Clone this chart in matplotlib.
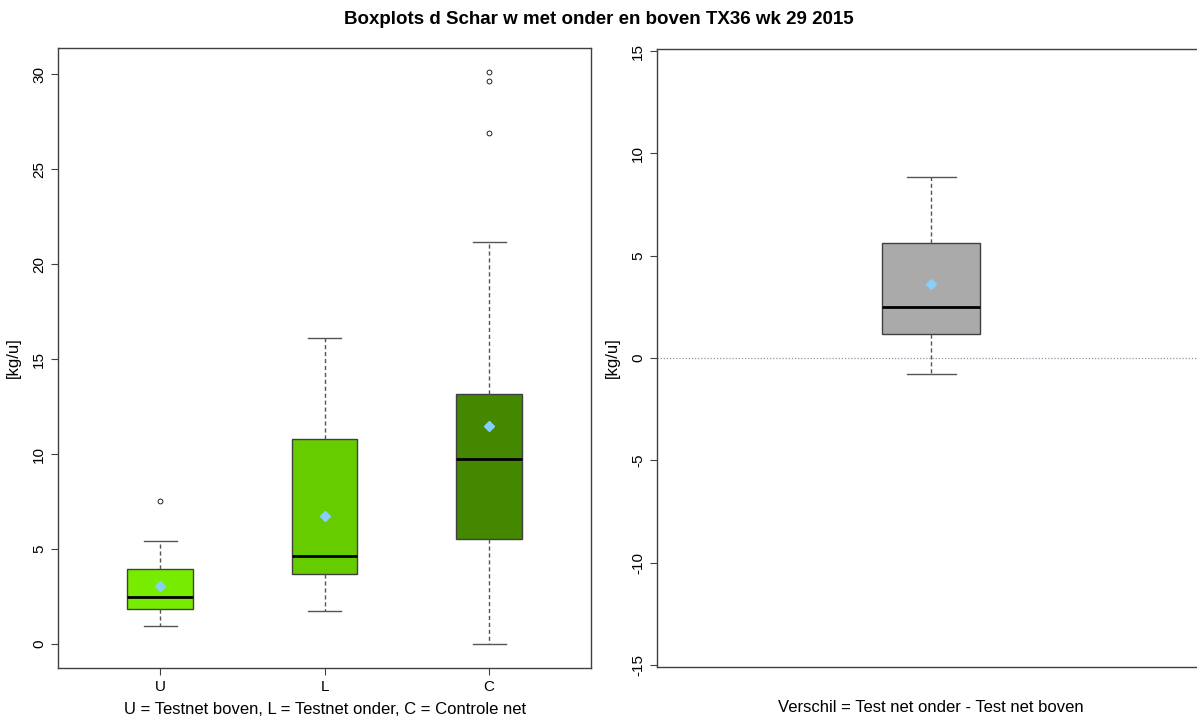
import matplotlib
matplotlib.use("Agg")
import matplotlib.pyplot as plt

plt.rcParams["font.family"] = ["Liberation Sans", "DejaVu Sans"]
plt.rcParams["axes.unicode_minus"] = False

# values
groups = ["U", "L", "C"]
q1 = [1.84, 3.68, 5.53]
med = [2.47, 4.63, 9.74]
q3 = [3.95, 10.79, 13.16]
whislo = [0.95, 1.74, 0.0]
whishi = [5.42, 16.1, 21.16]
means = [3.05, 6.74, 11.47]
fliers = [[7.53], [], [26.9, 29.63, 30.1]]
box_colors = ["#78ec00", "#66cc00", "#448800"]

diff_q1 = 1.17
diff_med = 2.49
diff_q3 = 5.61
diff_lo = -0.78
diff_hi = 8.83
diff_mean = 3.61

title = "Boxplots d Schar w met onder en boven TX36 wk 29 2015"
xlabel_left = "U = Testnet boven, L = Testnet onder, C = Controle net"
xlabel_right = "Verschil = Test net onder - Test net boven"

fig = plt.figure(figsize=(11.97, 7.2), dpi=100)
ax1 = fig.add_axes([0.0485, 0.0722, 0.4453, 0.861])
ax2 = fig.add_axes([0.5489, 0.0736, 0.4578, 0.8584])

edge = "#404040"


def style_axes(ax):
    for s in ax.spines.values():
        s.set_color(edge)
        s.set_linewidth(1.0)
    ax.tick_params(axis="both", direction="out", length=5, width=0.8,
                   color=edge, labelsize=11)
    for lab in ax.get_yticklabels():
        lab.set_rotation(90)
        lab.set_va("center")


stats = []
for i, g in enumerate(groups):
    stats.append(dict(label=g, q1=q1[i], med=med[i], q3=q3[i],
                      whislo=whislo[i], whishi=whishi[i], mean=means[i],
                      fliers=fliers[i]))

bp = ax1.bxp(stats, positions=[1, 2, 3], widths=0.4, patch_artist=True,
             showmeans=True,
             boxprops=dict(edgecolor=edge, linewidth=1.0),
             medianprops=dict(color="black", linewidth=2),
             whiskerprops=dict(color="#555555", linestyle=(0, (3, 2)), linewidth=1.0),
             capprops=dict(color="#555555", linewidth=1.0),
             meanprops=dict(marker="D", markerfacecolor="#87cefa",
                            markeredgecolor="#87cefa", markersize=5),
             flierprops=dict(marker="o", markerfacecolor="none",
                             markeredgecolor="black", markersize=3.5,
                             markeredgewidth=0.6))
for patch, c in zip(bp["boxes"], box_colors):
    patch.set_facecolor(c)

ax1.set_xlim(0.38, 3.62)
ax1.set_ylim(-1.26, 31.37)
ax1.set_yticks([0, 5, 10, 15, 20, 25, 30])
ax1.set_xticks([1, 2, 3])
ax1.set_xticklabels(groups)
ax1.set_ylabel("[kg/u]", fontsize=12, labelpad=8)
ax1.set_xlabel(xlabel_left, fontsize=12, labelpad=6)
style_axes(ax1)

stats2 = [dict(label="", q1=diff_q1, med=diff_med, q3=diff_q3,
               whislo=diff_lo, whishi=diff_hi, mean=diff_mean, fliers=[])]
bp2 = ax2.bxp(stats2, positions=[1], widths=0.193, patch_artist=True,
              showmeans=True,
              boxprops=dict(edgecolor=edge, linewidth=1.0, facecolor="#aaaaaa"),
              medianprops=dict(color="black", linewidth=2),
              whiskerprops=dict(color="#555555", linestyle=(0, (3, 2)), linewidth=1.0),
              capprops=dict(color="#555555", linewidth=1.0),
              meanprops=dict(marker="D", markerfacecolor="#87cefa",
                             markeredgecolor="#87cefa", markersize=5))
ax2.axhline(0, color="#8899aa", linestyle=(0, (1, 1.5)), linewidth=0.9, zorder=0)
ax2.set_xlim(0.46, 1.54)
ax2.set_ylim(-15.1, 15.1)
ax2.set_yticks([-15, -10, -5, 0, 5, 10, 15])
ax2.set_xticks([])
ax2.set_ylabel("[kg/u]", fontsize=12, labelpad=8)
ax2.set_xlabel(xlabel_right, fontsize=12, labelpad=24)
style_axes(ax2)

fig.suptitle(title, fontsize=13.5, fontweight="bold", y=0.985)

fig.savefig("out.png", dpi=100)
